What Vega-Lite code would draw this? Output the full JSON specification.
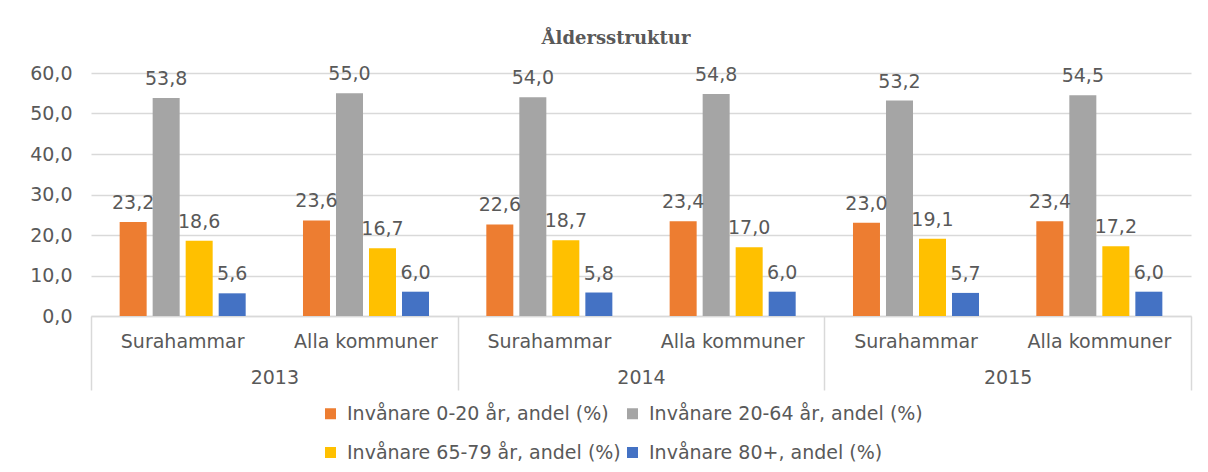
{
  "$schema": "https://vega.github.io/schema/vega-lite/v6.json",
  "width": 1100,
  "height": 243,
  "autosize": {"type": "none"},
  "padding": {"left": 91, "top": 73, "right": 17, "bottom": 156},
  "background": "white",
  "config": {
    "locale": {"number": {"decimal": ",", "thousands": "\u00a0", "grouping": [3], "currency": ["", " kr"]}},
    "view": {"stroke": null},
    "font": "DejaVu Sans"
  },
  "title": {
    "text": "Åldersstruktur",
    "font": "DejaVu Serif",
    "fontSize": 18,
    "fontWeight": "bold",
    "color": "#595959",
    "dx": -25,
    "offset": 16
  },
  "data": {
    "values": [
      {"year": "2013", "kommun": "Surahammar", "serie": "Invånare 0-20 år, andel (%)", "varde": 23.2},
      {"year": "2013", "kommun": "Surahammar", "serie": "Invånare 20-64 år, andel (%)", "varde": 53.8},
      {"year": "2013", "kommun": "Surahammar", "serie": "Invånare 65-79 år, andel (%)", "varde": 18.6},
      {"year": "2013", "kommun": "Surahammar", "serie": "Invånare 80+, andel (%)", "varde": 5.6},
      {"year": "2013", "kommun": "Alla kommuner", "serie": "Invånare 0-20 år, andel (%)", "varde": 23.6},
      {"year": "2013", "kommun": "Alla kommuner", "serie": "Invånare 20-64 år, andel (%)", "varde": 55.0},
      {"year": "2013", "kommun": "Alla kommuner", "serie": "Invånare 65-79 år, andel (%)", "varde": 16.7},
      {"year": "2013", "kommun": "Alla kommuner", "serie": "Invånare 80+, andel (%)", "varde": 6.0},
      {"year": "2014", "kommun": "Surahammar", "serie": "Invånare 0-20 år, andel (%)", "varde": 22.6},
      {"year": "2014", "kommun": "Surahammar", "serie": "Invånare 20-64 år, andel (%)", "varde": 54.0},
      {"year": "2014", "kommun": "Surahammar", "serie": "Invånare 65-79 år, andel (%)", "varde": 18.7},
      {"year": "2014", "kommun": "Surahammar", "serie": "Invånare 80+, andel (%)", "varde": 5.8},
      {"year": "2014", "kommun": "Alla kommuner", "serie": "Invånare 0-20 år, andel (%)", "varde": 23.4},
      {"year": "2014", "kommun": "Alla kommuner", "serie": "Invånare 20-64 år, andel (%)", "varde": 54.8},
      {"year": "2014", "kommun": "Alla kommuner", "serie": "Invånare 65-79 år, andel (%)", "varde": 17.0},
      {"year": "2014", "kommun": "Alla kommuner", "serie": "Invånare 80+, andel (%)", "varde": 6.0},
      {"year": "2015", "kommun": "Surahammar", "serie": "Invånare 0-20 år, andel (%)", "varde": 23.0},
      {"year": "2015", "kommun": "Surahammar", "serie": "Invånare 20-64 år, andel (%)", "varde": 53.2},
      {"year": "2015", "kommun": "Surahammar", "serie": "Invånare 65-79 år, andel (%)", "varde": 19.1},
      {"year": "2015", "kommun": "Surahammar", "serie": "Invånare 80+, andel (%)", "varde": 5.7},
      {"year": "2015", "kommun": "Alla kommuner", "serie": "Invånare 0-20 år, andel (%)", "varde": 23.4},
      {"year": "2015", "kommun": "Alla kommuner", "serie": "Invånare 20-64 år, andel (%)", "varde": 54.5},
      {"year": "2015", "kommun": "Alla kommuner", "serie": "Invånare 65-79 år, andel (%)", "varde": 17.2},
      {"year": "2015", "kommun": "Alla kommuner", "serie": "Invånare 80+, andel (%)", "varde": 6.0}
    ]
  },
  "transform": [{"calculate": "datum.year + '|' + datum.kommun", "as": "cat"}],
  "layer": [
    {
      "encoding": {
        "x": {
          "field": "cat",
          "type": "nominal",
          "sort": null,
          "scale": {"type": "band", "paddingInner": 0, "paddingOuter": 0},
          "axis": {
            "orient": "bottom",
            "title": null,
            "labelExpr": "split(datum.value, '|')[1]",
            "ticks": false,
            "domain": true,
            "domainColor": "#D9D9D9",
            "domainWidth": 1.5,
            "labelFontSize": 19,
            "labelColor": "#595959",
            "labelPadding": 16,
            "labelAngle": 0,
            "grid": false
          }
        },
        "xOffset": {
          "field": "serie",
          "type": "nominal",
          "scale": {
            "domain": ["Invånare 0-20 år, andel (%)", "Invånare 20-64 år, andel (%)", "Invånare 65-79 år, andel (%)", "Invånare 80+, andel (%)"],
            "paddingInner": 0.182,
            "paddingOuter": 0.868
          }
        },
        "y": {
          "field": "varde",
          "type": "quantitative",
          "scale": {"domain": [0, 60]},
          "axis": {
            "title": null,
            "values": [0, 10, 20, 30, 40, 50, 60],
            "format": ".1f",
            "domain": false,
            "ticks": false,
            "grid": true,
            "gridColor": "#D9D9D9",
            "gridWidth": 1.5,
            "labelFontSize": 19,
            "labelColor": "#595959",
            "labelPadding": 19
          }
        }
      },
      "layer": [
        {
          "mark": {"type": "bar"},
          "encoding": {
            "color": {
              "field": "serie",
              "type": "nominal",
              "scale": {
                "domain": ["Invånare 0-20 år, andel (%)", "Invånare 20-64 år, andel (%)", "Invånare 65-79 år, andel (%)", "Invånare 80+, andel (%)"],
                "range": ["#ED7D31", "#A5A5A5", "#FFC000", "#4472C4"]
              },
              "legend": {
                "title": null,
                "orient": "none",
                "direction": "horizontal",
                "legendX": 230,
                "legendY": 331,
                "columns": 2,
                "symbolType": "square",
                "symbolSize": 121,
                "symbolStrokeWidth": 0,
                "labelFontSize": 19,
                "labelColor": "#595959",
                "labelOffset": 7,
                "rowPadding": 19,
                "columnPadding": 2,
                "labelLimit": 400
              }
            }
          }
        },
        {
          "mark": {"type": "text", "baseline": "alphabetic", "dy": -13, "fontSize": 19, "color": "#595959"},
          "encoding": {
            "text": {"field": "varde", "type": "quantitative", "format": ".1f"}
          }
        }
      ]
    },
    {
      "mark": {"type": "rule", "opacity": 0},
      "encoding": {
        "x": {
          "field": "year",
          "type": "nominal",
          "scale": {"type": "band", "paddingInner": 0, "paddingOuter": 0},
          "axis": {
            "orient": "bottom",
            "title": null,
            "domain": false,
            "ticks": true,
            "tickBand": "extent",
            "tickSize": 74,
            "tickColor": "#D9D9D9",
            "tickWidth": 1.5,
            "labelPadding": -22,
            "labelFontSize": 19,
            "labelColor": "#595959",
            "labelAngle": 0,
            "grid": false
          }
        }
      }
    }
  ],
  "resolve": {"scale": {"x": "independent"}, "axis": {"x": "independent"}}
}
